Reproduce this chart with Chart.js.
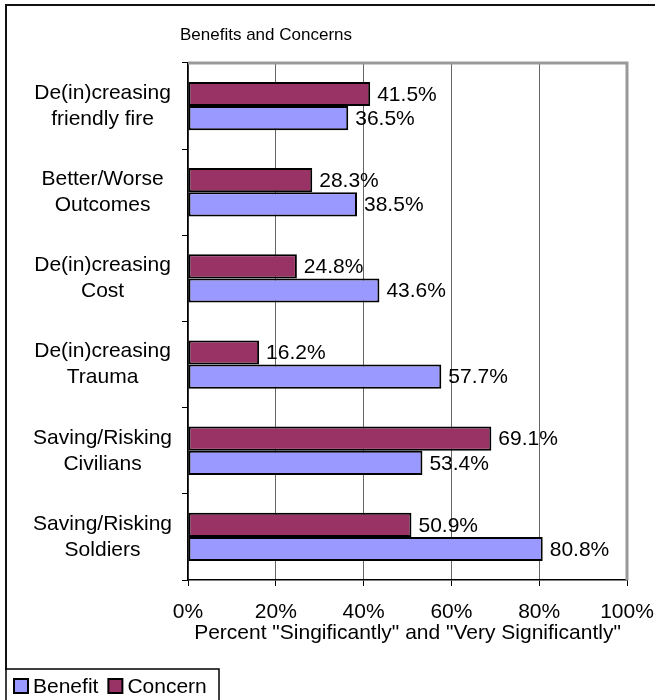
<!DOCTYPE html>
<html>
<head>
<meta charset="utf-8">
<script src="https://cdn.jsdelivr.net/npm/chart.js@4.4.1/dist/chart.umd.min.js"></script>
<style>
  html, body { margin: 0; padding: 0; background: #fff; }
  #wrap { width: 655px; height: 700px; position: relative; }
</style>
</head>
<body>
<div id="wrap"><canvas id="chart"></canvas></div>
<script>
// Chart data
const categories = [
    ['De(in)creasing', 'friendly fire'],
    ['Better/Worse', 'Outcomes'],
    ['De(in)creasing', 'Cost'],
    ['De(in)creasing', 'Trauma'],
    ['Saving/Risking', 'Civilians'],
    ['Saving/Risking', 'Soldiers']
];
const concernValues = [41.5, 28.3, 24.8, 16.2, 69.1, 50.9];
const benefitValues = [36.5, 38.5, 43.6, 57.7, 53.4, 80.8];
const xTicks = [0, 20, 40, 60, 80, 100];

const FONT = '"Liberation Sans", Arial, sans-serif';
Chart.defaults.font.family = FONT;
Chart.defaults.color = '#000';

// Frame, title, plot border and legend
const decorPlugin = {
    id: 'decor',
    afterDraw(chart) {
        const c = chart.ctx;
        const a = chart.chartArea;
        c.save();
        // outer frame
        c.strokeStyle = '#111';
        c.lineWidth = 2;
        c.beginPath();
        c.moveTo(6, 670);
        c.lineTo(6, 5);
        c.lineTo(655, 5);
        c.stroke();
        // plot border top/right
        c.strokeStyle = '#999';
        c.lineWidth = 3;
        c.beginPath();
        c.moveTo(a.left, a.top);
        c.lineTo(a.right, a.top);
        c.lineTo(a.right, a.bottom);
        c.stroke();
        // title
        c.fillStyle = '#000';
        c.font = '17px ' + FONT;
        c.textAlign = 'center';
        c.textBaseline = 'middle';
        c.fillText('Benefits and Concerns', 266, 35);
        // legend
        c.strokeStyle = '#000';
        c.lineWidth = 1.5;
        c.strokeRect(6, 669, 213, 40);
        const items = chart.data.datasets.slice().reverse();
        let x = 14;
        c.font = '21px ' + FONT;
        c.textAlign = 'left';
        items.forEach(ds => {
            c.fillStyle = ds.backgroundColor;
            c.fillRect(x, 679, 14, 14);
            c.strokeStyle = '#000';
            c.lineWidth = 2;
            c.strokeRect(x, 679, 14, 14);
            c.fillStyle = '#000';
            c.fillText(ds.label, x + 19, 687);
            x += 19 + c.measureText(ds.label).width + 10;
        });
        c.restore();
    }
};

// Value labels at bar ends
const valueLabels = {
    id: 'valueLabels',
    afterDatasetsDraw(chart) {
        const c = chart.ctx;
        c.save();
        c.font = '21px ' + FONT;
        c.fillStyle = '#000';
        c.textAlign = 'left';
        c.textBaseline = 'middle';
        chart.data.datasets.forEach((ds, i) => {
            chart.getDatasetMeta(i).data.forEach((bar, j) => {
                c.fillText(ds.data[j].toFixed(1) + '%', bar.x + 7, bar.y + 1);
            });
        });
        c.restore();
    }
};

new Chart(document.getElementById('chart'), {
    type: 'bar',
    data: {
        labels: categories,
        datasets: [
            {
                label: 'Concern',
                data: concernValues,
                backgroundColor: '#993366',
                borderColor: '#000',
                borderWidth: 2,
                borderSkipped: false,
                barPercentage: 1,
                categoryPercentage: 0.56
            },
            {
                label: 'Benefit',
                data: benefitValues,
                backgroundColor: '#9999ff',
                borderColor: '#000',
                borderWidth: 2,
                borderSkipped: false,
                barPercentage: 1,
                categoryPercentage: 0.56
            }
        ]
    },
    options: {
        indexAxis: 'y',
        responsive: true,
        maintainAspectRatio: false,
        animation: false,
        layout: {
            padding: { top: 63, left: 33, right: 28, bottom: 54 }
        },
        plugins: {
            legend: { display: false },
            title: { display: false },
            tooltip: { enabled: false }
        },
        scales: {
            x: {
                min: 0,
                max: 100,
                afterBuildTicks(scale) {
                    scale.ticks = xTicks.map(v => ({ value: v }));
                },
                afterFit(scale) {
                    scale.height = 66;
                    scale.paddingLeft = 0;
                    scale.paddingRight = 0;
                },
                grid: {
                    color: ctx => ctx.tick && ctx.tick.value === 100 ? 'rgba(0,0,0,0)' : '#666',
                    tickColor: '#000',
                    tickLength: 6,
                    lineWidth: 1
                },
                border: { color: '#000', width: 1.5 },
                ticks: {
                    padding: 14,
                    font: { size: 21 },
                    callback: v => v + '%'
                },
                title: {
                    display: true,
                    text: 'Percent "Singificantly" and "Very Significantly"',
                    font: { size: 21 },
                    padding: 0
                }
            },
            y: {
                afterFit(scale) {
                    scale.width = 155;
                    scale.paddingTop = 0;
                    scale.paddingBottom = 0;
                },
                grid: {
                    drawOnChartArea: false,
                    offset: true,
                    tickLength: 6,
                    tickColor: '#000'
                },
                border: { color: '#000', width: 1.5 },
                ticks: {
                    crossAlign: 'center',
                    padding: 10,
                    font: { size: 21, lineHeight: 1.24 }
                }
            }
        }
    },
    plugins: [decorPlugin, valueLabels]
});
</script>
</body>
</html>
